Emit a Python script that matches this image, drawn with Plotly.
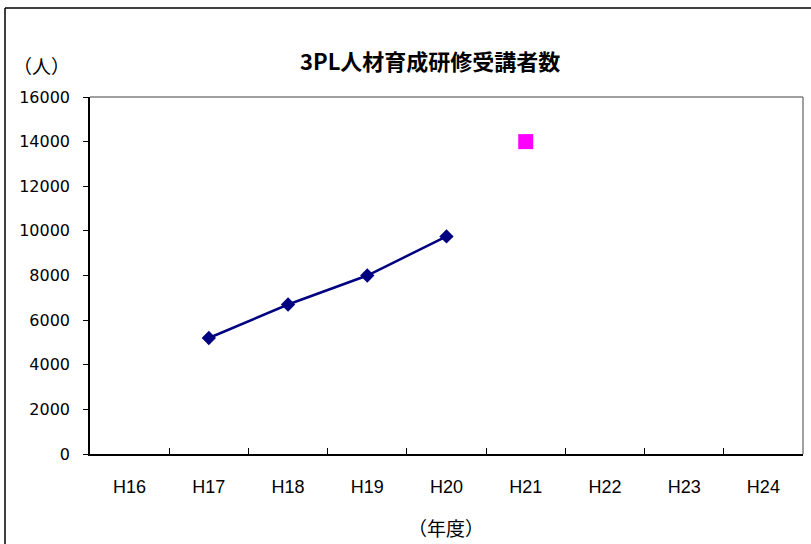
import plotly.graph_objects as go

categories = ["H16", "H17", "H18", "H19", "H20", "H21", "H22", "H23", "H24"]
actual_years = ["H17", "H18", "H19", "H20"]
actual_values = [5200, 6700, 8000, 9750]
target_years = ["H21"]
target_values = [14000]
y_ticks = [0, 2000, 4000, 6000, 8000, 10000, 12000, 14000, 16000]

W, H = 811, 544
L, R, T, B = 90, 8, 97, 90
pw, ph = W - L - R, H - T - B

def px_x(p):
    return (p - L) / pw

def px_y(p):
    return (H - B - p) / ph

fig = go.Figure()
fig.add_trace(go.Scatter(
    x=actual_years, y=actual_values, mode="lines+markers",
    line=dict(color="#000080", width=2.5),
    marker=dict(symbol="diamond", size=11, color="#000080"),
    showlegend=False, cliponaxis=False,
))
fig.add_trace(go.Scatter(
    x=target_years, y=target_values, mode="markers",
    marker=dict(symbol="square", size=15, color="#FF00FF"),
    showlegend=False, cliponaxis=False,
))

# plot-area top/right grey border
fig.add_shape(type="line", xref="paper", yref="paper", x0=0, x1=1, y0=1, y1=1,
              line=dict(color="#808080", width=1.5), layer="below")
fig.add_shape(type="line", xref="paper", yref="paper", x0=1, x1=1, y0=0, y1=1,
              line=dict(color="#808080", width=1.5), layer="below")
# outer chart border (left & top)
fig.add_shape(type="line", xref="paper", yref="paper", x0=px_x(5), x1=px_x(5),
              y0=px_y(560), y1=px_y(8), line=dict(color="#000000", width=1.5))
fig.add_shape(type="line", xref="paper", yref="paper", x0=px_x(5), x1=px_x(830),
              y0=px_y(8), y1=px_y(8), line=dict(color="#000000", width=1.5))

font_cjk = "Noto Sans CJK JP"
fig.add_annotation(text="3PL人材育成研修受講者数", xref="paper", yref="paper",
                   x=px_x(430), y=px_y(60), showarrow=False,
                   xanchor="center", yanchor="middle",
                   font=dict(family=font_cjk, size=22, color="#000000", weight="bold"))
fig.add_annotation(text="（人）", xref="paper", yref="paper",
                   x=px_x(41), y=px_y(65), showarrow=False,
                   xanchor="center", yanchor="middle",
                   font=dict(family=font_cjk, size=19, color="#000000"))
fig.add_annotation(text="（年度）", xref="paper", yref="paper",
                   x=px_x(446), y=px_y(527), showarrow=False,
                   xanchor="center", yanchor="middle",
                   font=dict(family=font_cjk, size=19, color="#000000"))

fig.update_layout(
    width=W, height=H,
    margin=dict(l=L, r=R, t=T, b=B),
    paper_bgcolor="#ffffff", plot_bgcolor="#ffffff",
    xaxis=dict(type="category", categoryorder="array", categoryarray=categories,
               range=[-0.5, len(categories) - 0.5],
               tickmode="array", tickvals=categories, ticktext=categories,
               tickson="boundaries", ticks="inside", ticklen=6, tickcolor="#000000",
               showline=True, linecolor="#000000", linewidth=1.5,
               showgrid=False, zeroline=False, ticklabelstandoff=16,
               tickfont=dict(family="Liberation Sans", size=18, color="#000000")),
    yaxis=dict(range=[0, 16000], tickvals=y_ticks, ticktext=[str(v) for v in y_ticks],
               ticks="outside", ticklen=5, tickcolor="#000000",
               showline=True, linecolor="#000000", linewidth=1.5,
               showgrid=False, zeroline=False, ticklabelstandoff=10,
               tickfont=dict(family="DejaVu Sans", size=16, color="#000000")),
)

fig.write_html("out.html", config={"displayModeBar": False},
               post_script="document.body.style.margin='0';document.body.style.padding='0';")
